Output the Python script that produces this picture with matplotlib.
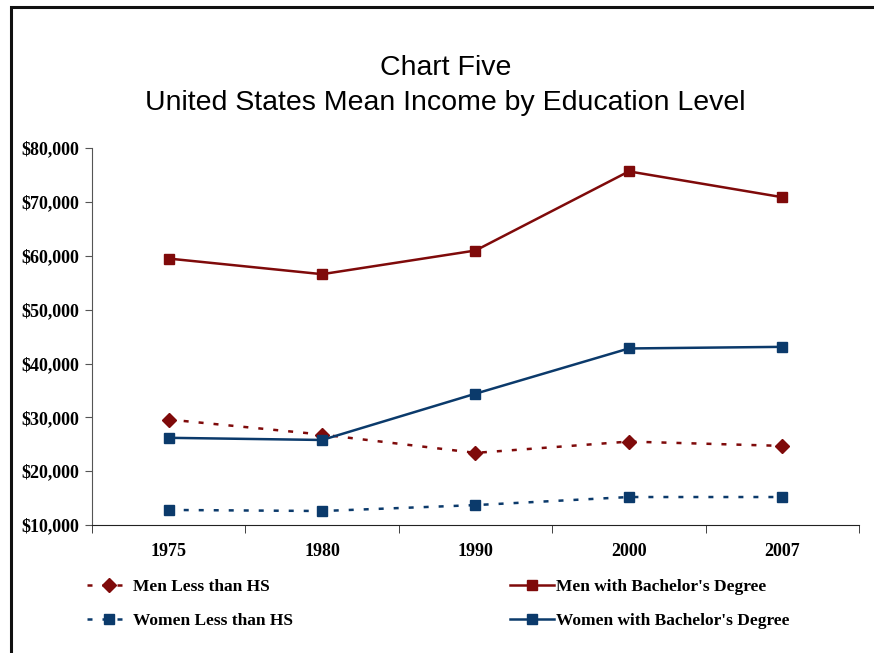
import matplotlib
matplotlib.use("Agg")
import matplotlib.pyplot as plt
from matplotlib.patches import Rectangle
from matplotlib.ticker import FuncFormatter

years = ["1975", "1980", "1990", "2000", "2007"]
men_less_hs = [29600, 26800, 23400, 25500, 24700]
men_bachelor = [59500, 56600, 61000, 75700, 70900]
women_less_hs = [12800, 12600, 13700, 15200, 15200]
women_bachelor = [26200, 25800, 34400, 42800, 43100]

red = "#7f0a0a"
blue = "#0b3a6b"

plt.rcParams["lines.scale_dashes"] = False
serif = ["Liberation Serif", "DejaVu Serif"]

fig = plt.figure(figsize=(8.74, 6.53), dpi=100)
ax = fig.add_axes([0.1053, 0.196, 0.8775, 0.577])

x = range(len(years))
h1, = ax.plot(x, men_less_hs, color=red, lw=1.8, dashes=(3.6, 7.2),
              marker="D", ms=7, label="Men Less than HS")
h3, = ax.plot(x, women_less_hs, color=blue, lw=1.8, dashes=(3.6, 7.2),
              marker="s", ms=7.5, label="Women Less than HS")
h2, = ax.plot(x, men_bachelor, color=red, lw=1.8,
              marker="s", ms=7.5, label="Men with Bachelor's Degree")
h4, = ax.plot(x, women_bachelor, color=blue, lw=1.8,
              marker="s", ms=7.5, label="Women with Bachelor's Degree")

ax.set_xlim(-0.5, len(years) - 0.5)
ax.set_ylim(10000, 80000)
ax.set_yticks(range(10000, 80001, 10000))
ax.yaxis.set_major_formatter(FuncFormatter(lambda v, p: "${:,.0f}".format(v)))
ax.set_xticks(list(x))
ax.set_xticklabels(years)
ax.set_xticks([i - 0.5 for i in range(len(years) + 1)], minor=True)

for s in ["top", "right"]:
    ax.spines[s].set_visible(False)
ax.spines["left"].set_color("#555555")
ax.spines["bottom"].set_color("#222222")

ax.tick_params(axis="x", which="major", length=0, pad=13)
ax.tick_params(axis="x", which="minor", length=6, direction="out", color="#222222")
ax.tick_params(axis="y", length=5, direction="out", pad=4, color="#555555")
for lbl in ax.get_xticklabels() + ax.get_yticklabels():
    lbl.set_fontfamily(serif)
    lbl.set_fontweight("bold")
    lbl.set_fontsize(13)

fig.text(0.51, 0.896, "Chart Five", ha="center", va="center",
         fontsize=20.5, family=["Liberation Sans", "DejaVu Sans"])
fig.text(0.51, 0.842, "United States Mean Income by Education Level", ha="center",
         va="center", fontsize=20.5, family=["Liberation Sans", "DejaVu Sans"])

leg = fig.legend(handles=[h1, h3, h2, h4], ncol=2, loc="upper left",
                 bbox_to_anchor=(0.082, 0.138), frameon=False,
                 prop={"family": serif, "weight": "bold", "size": 12.5},
                 handlelength=2.5, handletextpad=0.15, columnspacing=12.5,
                 labelspacing=1.05)

# page border on the left and top edges
fig.patches.append(Rectangle((11 / 874, -0.1), 1.2, (653 - 7) / 653 + 0.1,
                             transform=fig.transFigure, fill=False,
                             edgecolor="#111111", lw=2.2))

fig.savefig("out.png", dpi=100, facecolor="white")
